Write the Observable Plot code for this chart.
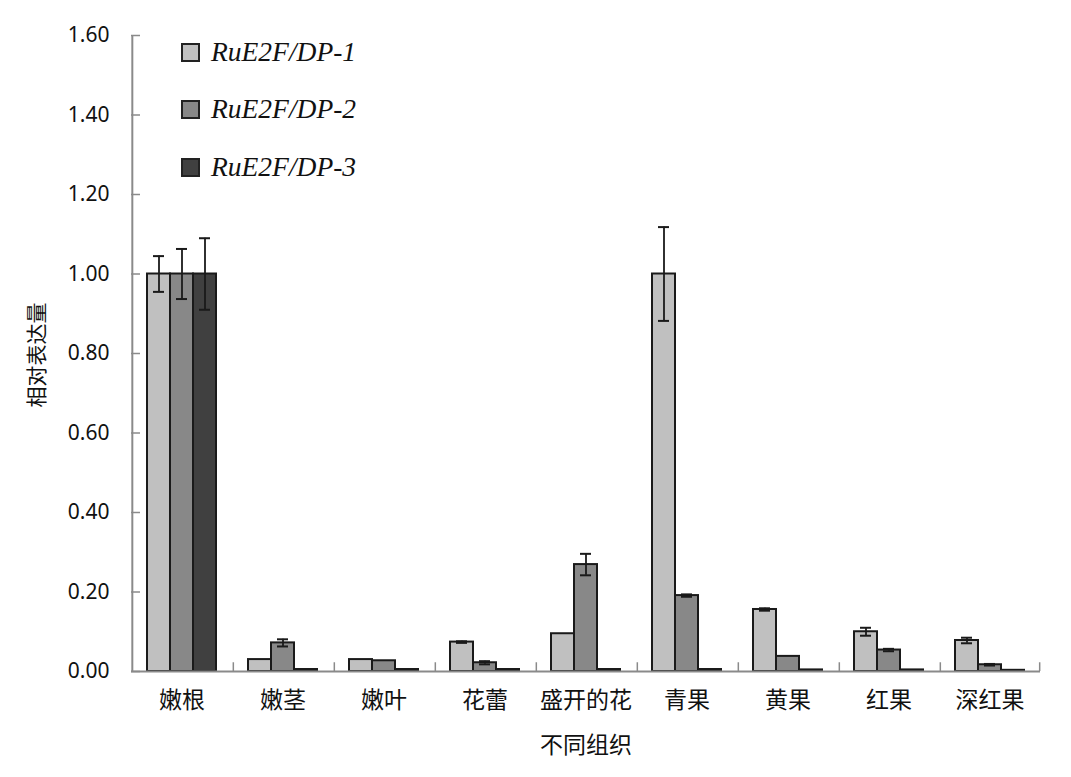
<!DOCTYPE html>
<html><head><meta charset="utf-8">
<script src="https://cdn.jsdelivr.net/npm/d3@7"></script>
<script src="https://cdn.jsdelivr.net/npm/@observablehq/plot@0.6"></script>
<style>
body{margin:0;background:#fff}
#wrap{position:relative;width:1071px;height:777px;font-family:"Noto Sans","Noto Sans CJK SC",sans-serif;color:#111}
.legend{position:absolute;left:181px;font-family:"Liberation Serif","DejaVu Serif",serif;font-style:italic;font-size:27.5px;display:flex;align-items:center;height:30px}
.legend span.sw{display:inline-block;width:15px;height:15px;border:2px solid #222;margin-right:11px}
.ytitle{position:absolute;left:35px;top:355px;transform:translate(-50%,-50%) rotate(-90deg);font-size:21px;white-space:nowrap;font-family:"Noto Sans CJK SC",sans-serif}
.xtitle{position:absolute;left:586px;top:743px;transform:translate(-50%,-50%);font-size:23px;white-space:nowrap;font-family:"Noto Sans CJK SC",sans-serif}
</style></head>
<body><div id="wrap"></div>
<script>
const tissues = ["嫩根","嫩茎","嫩叶","花蕾","盛开的花","青果","黄果","红果","深红果"];
const series = ["RuE2F/DP-1","RuE2F/DP-2","RuE2F/DP-3"];
const dp1 = [1.00,0.030,0.030,0.074,0.095,1.00,0.156,0.100,0.078];
const dp1Err = [0.045,0,0,0.002,0,0.118,0.003,0.010,0.007];
const dp2 = [1.00,0.072,0.027,0.022,0.269,0.191,0.038,0.054,0.017];
const dp2Err = [0.063,0.009,0,0.004,0.027,0.003,0,0.003,0.002];
const dp3 = [1.00,0.005,0.005,0.005,0.005,0.005,0.004,0.004,0.003];
const dp3Err = [0.090,0,0,0,0,0,0,0,0];
const yTicks = [0,0.2,0.4,0.6,0.8,1.0,1.2,1.4,1.6];
const colors = ["#c0c0c0","#888888","#404040"];

const vals = [dp1,dp2,dp3], errs = [dp1Err,dp2Err,dp3Err];
const rows = [];
tissues.forEach((t,i)=>series.forEach((s,j)=>rows.push({tissue:t, series:s, v:vals[j][i], e:errs[j][i]})));
const errRows = rows.filter(d=>d.e>0);

const W=1071,H=777,ML=127,MR=28,MT=35,MB=106,PO=0.66;
function build(off){
  const marks = [
    Plot.barY(rows,{fx:"tissue",x:"series",y:"v",fill:"series",stroke:"#1a1a1a",strokeWidth:2}),
    Plot.ruleX(errRows,{fx:"tissue",x:"series",y1:d=>d.v-d.e,y2:d=>d.v+d.e,stroke:"#1a1a1a",strokeWidth:1.8}),
    Plot.tickY(errRows,{fx:"tissue",x:"series",y:d=>d.v+d.e,inset:6,stroke:"#1a1a1a",strokeWidth:2}),
    Plot.tickY(errRows,{fx:"tissue",x:"series",y:d=>d.v-d.e,inset:6,stroke:"#1a1a1a",strokeWidth:2}),
    Plot.ruleY([0],{stroke:"#8a8a8a",strokeWidth:2}),
    Plot.axisFx({anchor:"bottom",tickSize:0,tickPadding:20,fontSize:23,label:null,fill:"#111"}),
    Plot.axisY({ticks:yTicks,tickSize:0,tickPadding:22,fontSize:21,tickFormat:d=>d.toFixed(2),label:null,fill:"#111"}),
    Plot.axisY({ticks:yTicks,tickSize:9,dx:9,tickFormat:()=>"",label:null,stroke:"#8a8a8a",strokeWidth:1.5})
  ];
  if (off != null) {
    marks.push(
      Plot.ruleX([tissues[0]],{fx:d=>d,x:()=>series[0],dx:-off,y1:0,y2:1.6,stroke:"#8a8a8a",strokeWidth:2}),
      Plot.ruleX(tissues.slice(1),{fx:d=>d,x:()=>series[0],dx:-off,y1:0,y2:0.022,stroke:"#8a8a8a",strokeWidth:1.5}),
      Plot.ruleX([tissues[tissues.length-1]],{fx:d=>d,x:()=>series[2],dx:off,y1:0,y2:0.022,stroke:"#8a8a8a",strokeWidth:1.5})
    );
  }
  return Plot.plot({
    width:W,height:H,marginLeft:ML,marginRight:MR,marginTop:MT,marginBottom:MB,
    style:{fontFamily:'"Noto Sans","Noto Sans CJK SC",sans-serif',background:"white",overflow:"visible"},
    fx:{domain:tissues,padding:0,label:null},
    x:{domain:series,paddingInner:0,paddingOuter:PO,axis:null},
    y:{domain:[0,1.6],axis:null},
    color:{domain:series,range:colors},
    marks
  });
}
const p0 = build(null);
const sx = p0.scale("x");
const step = sx.step ?? sx.bandwidth;
const off = PO*step + sx.bandwidth/2;
const chart = build(off);
const wrap = document.getElementById("wrap");
wrap.appendChild(chart);

const legTops=[37,94,152];
series.forEach((s,j)=>{
  const d=document.createElement("div");
  d.className="legend"; d.style.top=legTops[j]+"px";
  d.innerHTML=`<span class="sw" style="background:${colors[j]}"></span>${s}`;
  wrap.appendChild(d);
});
const yt=document.createElement("div"); yt.className="ytitle"; yt.textContent="相对表达量"; wrap.appendChild(yt);
const xt=document.createElement("div"); xt.className="xtitle"; xt.textContent="不同组织"; wrap.appendChild(xt);
</script></body></html>
